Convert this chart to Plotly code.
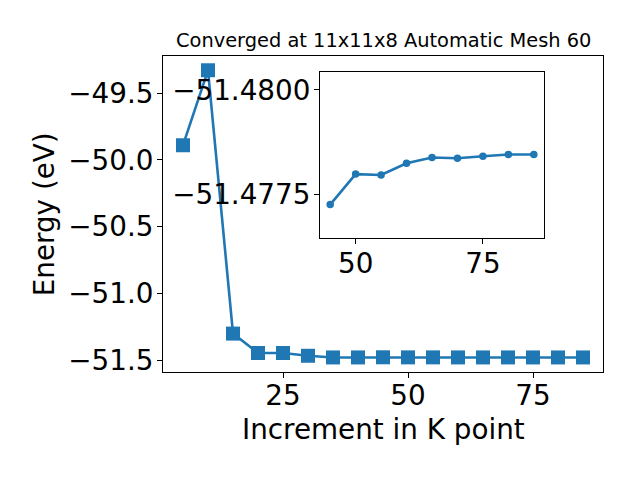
import plotly.graph_objects as go

# Data
kpoints = [5, 10, 15, 20, 25, 30, 35, 40, 45, 50, 55, 60, 65, 70, 75, 80, 85]
energy = [-49.89, -49.33, -51.30, -51.445, -51.445, -51.466, -51.4785, -51.4784,
          -51.47725, -51.47798, -51.47796, -51.47824, -51.47838, -51.47836,
          -51.47841, -51.47845, -51.47845]
inset_k = kpoints[8:]
inset_e = energy[8:]

main_yticks = [-49.5, -50.0, -50.5, -51.0, -51.5]
main_yticktext = ["\u221249.5", "\u221250.0", "\u221250.5", "\u221251.0", "\u221251.5"]
main_xticks = [25, 50, 75]
inset_xticks = [50, 75]
inset_yticks = [-51.4800, -51.4775]
inset_yticktext = ["\u221251.4800", "\u221251.4775"]

title_text = "Converged at 11x11x8 Automatic Mesh 60"
xlabel = "Increment in K point"
ylabel = "Energy (eV)"

W, H = 640, 480
C = "#1f77b4"
FONT = "DejaVu Sans"
FS = 27.8

fig = go.Figure()
fig.add_trace(go.Scatter(x=kpoints, y=energy, mode="lines+markers",
                         line=dict(color=C, width=2.6),
                         marker=dict(symbol="square", size=14, color=C),
                         xaxis="x", yaxis="y", showlegend=False))
fig.add_trace(go.Scatter(x=inset_k, y=inset_e, mode="lines+markers",
                         line=dict(color=C, width=2.6),
                         marker=dict(symbol="circle", size=7.5, color=C),
                         xaxis="x2", yaxis="y2", showlegend=False))

axis_common = dict(showline=True, linecolor="black", linewidth=1, mirror=True,
                   ticks="outside", ticklen=5, tickwidth=1, tickcolor="black",
                   showgrid=False, zeroline=False,
                   tickfont=dict(family=FONT, size=FS, color="black"))

fig.update_layout(
    width=W, height=H,
    margin=dict(l=0, r=0, t=0, b=0),
    paper_bgcolor="white", plot_bgcolor="white",
    font=dict(family=FONT, color="black"),
    xaxis=dict(domain=[163 / W, 603 / W], range=[1, 89], anchor="y",
               tickmode="array", tickvals=main_xticks, ticklabelstandoff=-6,
               **axis_common),
    yaxis=dict(domain=[1 - 376 / H, 1 - 57 / H], range=[-51.588, -49.226], anchor="x",
               tickmode="array", tickvals=main_yticks, ticktext=main_yticktext,
               ticklabelstandoff=-2, **axis_common),
    xaxis2=dict(domain=[320 / W, 544 / W], range=[43, 87], anchor="y2",
                tickmode="array", tickvals=inset_xticks, ticklabelstandoff=-4,
                **axis_common),
    yaxis2=dict(domain=[1 - 240 / H, 1 - 72.3 / H], range=[-51.47646, -51.48044], anchor="x2",
                tickmode="array", tickvals=inset_yticks, ticktext=inset_yticktext,
                ticklabelstandoff=-2, **axis_common),
    annotations=[
        dict(text=title_text, x=383 / W, y=1 - 55 / H, xref="paper", yref="paper",
             xanchor="center", yanchor="bottom", showarrow=False,
             font=dict(family=FONT, size=19.4, color="black")),
        dict(text=xlabel, x=383 / W, y=1 - 453 / H, xref="paper", yref="paper",
             xanchor="center", yanchor="bottom", showarrow=False,
             font=dict(family=FONT, size=FS, color="black")),
        dict(text=ylabel, x=44 / W, y=1 - 216.5 / H, xref="paper", yref="paper",
             xanchor="center", yanchor="middle", textangle=-90, showarrow=False,
             font=dict(family=FONT, size=FS, color="black")),
    ],
)

fig.write_html("out.html", config={"displayModeBar": False},
               post_script="document.body.style.margin='0';document.body.style.overflow='hidden';")
